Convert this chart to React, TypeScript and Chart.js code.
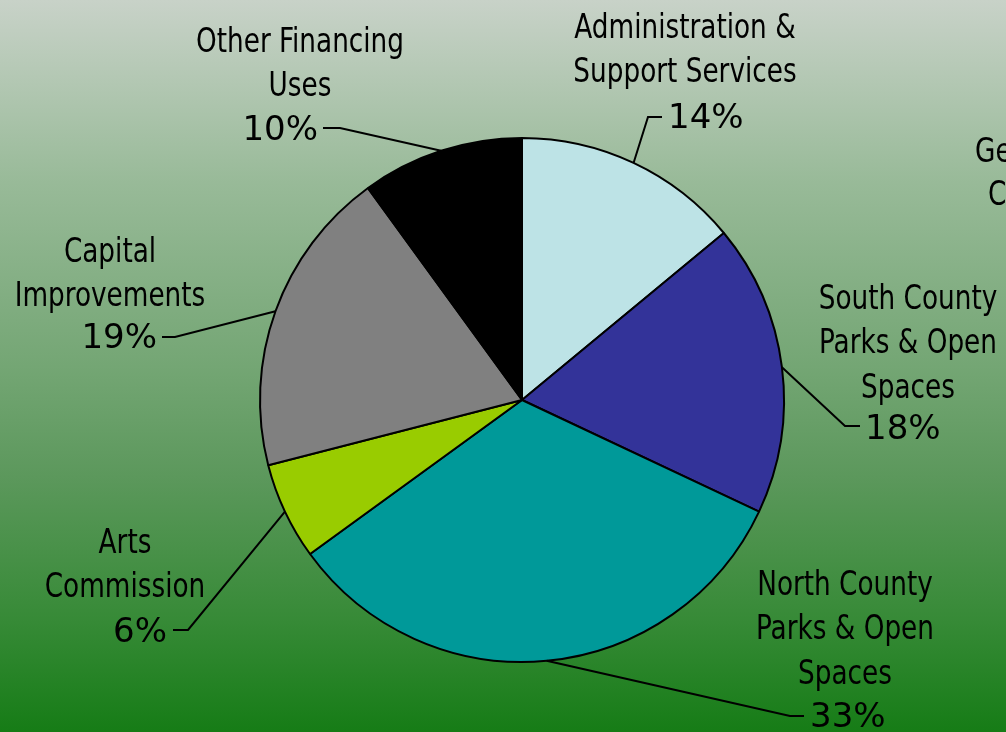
import React, { useEffect, useRef } from "react";
import { Chart, registerables } from "chart.js";

Chart.register(...registerables);

const categories = [
  ["Administration &", "Support Services"],
  ["South County", "Parks & Open", "Spaces"],
  ["North County", "Parks & Open", "Spaces"],
  ["Arts", "Commission"],
  ["Capital", "Improvements"],
  ["Other Financing", "Uses"],
];
const values = [14, 18, 33, 6, 19, 10];
const percentLabels = ["14%", "18%", "33%", "6%", "19%", "10%"];
const colors = ["#bde3e6", "#333399", "#009999", "#99cc00", "#808080", "#000000"];
const cutoffLabel = ["General", "Contingency"];

// label layout (px): name center, first line y, percent anchor, leader elbow and end
const labelLayout = [
  { nx: 685, ny: 29, px: 668, py: 119, align: "left", elbow: [648, 117], end: [662, 117] },
  { nx: 908, ny: 300, px: 865, py: 430, align: "left", elbow: [845, 426], end: [860, 426] },
  { nx: 845, ny: 586, px: 810, py: 718, align: "left", elbow: [790, 716], end: [804, 716] },
  { nx: 125, ny: 544, px: 167, py: 633, align: "right", elbow: [188, 630], end: [173, 630] },
  { nx: 110, ny: 253, px: 157, py: 339, align: "right", elbow: [175, 337], end: [162, 337] },
  { nx: 300, ny: 43, px: 318, py: 131, align: "right", elbow: [340, 128], end: [323, 128] },
];

const NAME_FONT = '34px "Liberation Sans Narrow", "Arial Narrow", "DejaVu Sans Condensed", sans-serif';
const NAME_SCALE = 0.86;
const PCT_FONT = '34px "DejaVu Sans", Verdana, sans-serif';

const bgPlugin = {
  id: "bg",
  beforeDraw(chart: any) {
    const { ctx, width, height } = chart;
    const g = ctx.createLinearGradient(0, 0, 0, height);
    g.addColorStop(0, "#c8d2c8");
    g.addColorStop(0.25, "#98ba98");
    g.addColorStop(0.5, "#74a674");
    g.addColorStop(0.65, "#5c985c");
    g.addColorStop(0.85, "#368a36");
    g.addColorStop(1, "#167c16");
    ctx.save();
    ctx.fillStyle = g;
    ctx.fillRect(0, 0, width, height);
    ctx.restore();
  },
};

function nameText(ctx: CanvasRenderingContext2D, text: string, x: number, y: number, align: CanvasTextAlign) {
  ctx.save();
  ctx.font = NAME_FONT;
  ctx.textAlign = align;
  ctx.textBaseline = "middle";
  ctx.translate(x, y);
  ctx.scale(NAME_SCALE, 1);
  ctx.fillText(text, 0, 0);
  ctx.restore();
}

const labelPlugin = {
  id: "labels",
  afterDraw(chart: any) {
    const { ctx } = chart;
    const meta = chart.getDatasetMeta(0);
    ctx.save();
    meta.data.forEach((arc: any, i: number) => {
      const L = labelLayout[i];
      const mid = (arc.startAngle + arc.endAngle) / 2;
      const sx = arc.x + Math.cos(mid) * arc.outerRadius;
      const sy = arc.y + Math.sin(mid) * arc.outerRadius;
      ctx.strokeStyle = "#000";
      ctx.lineWidth = 2;
      ctx.beginPath();
      ctx.moveTo(sx, sy);
      ctx.lineTo(L.elbow[0], L.elbow[1]);
      ctx.lineTo(L.end[0], L.end[1]);
      ctx.stroke();

      ctx.fillStyle = "#000";
      categories[i].forEach((line, j) => {
        nameText(ctx, line, L.nx, L.ny + j * 44.5, "center");
      });
      ctx.font = PCT_FONT;
      ctx.textAlign = L.align;
      ctx.textBaseline = "middle";
      ctx.fillText(percentLabels[i], L.px, L.py);
    });
    ctx.fillStyle = "#000";
    nameText(ctx, cutoffLabel[0], 975, 153, "left");
    nameText(ctx, cutoffLabel[1], 988, 196, "left");
    ctx.restore();
  },
};

export default function App() {
  const ref = useRef<HTMLCanvasElement>(null);
  useEffect(() => {
    document.body.style.margin = "0";
    const chart = new Chart(ref.current as HTMLCanvasElement, {
      type: "pie",
      data: {
        labels: categories.map((c) => c.join(" ")),
        datasets: [
          {
            data: values,
            backgroundColor: colors,
            borderColor: "#000",
            borderWidth: 2,
          },
        ],
      },
      options: {
        animation: false,
        responsive: true,
        maintainAspectRatio: false,
        layout: { padding: { left: 259, right: 221, top: 137, bottom: 69 } },
        plugins: { legend: { display: false }, tooltip: { enabled: false } },
      },
      plugins: [bgPlugin, labelPlugin],
    });
    return () => chart.destroy();
  }, []);
  return (
    <div style={{ position: "fixed", left: 0, top: 0, width: 1006, height: 732 }}>
      <canvas ref={ref} />
    </div>
  );
}
